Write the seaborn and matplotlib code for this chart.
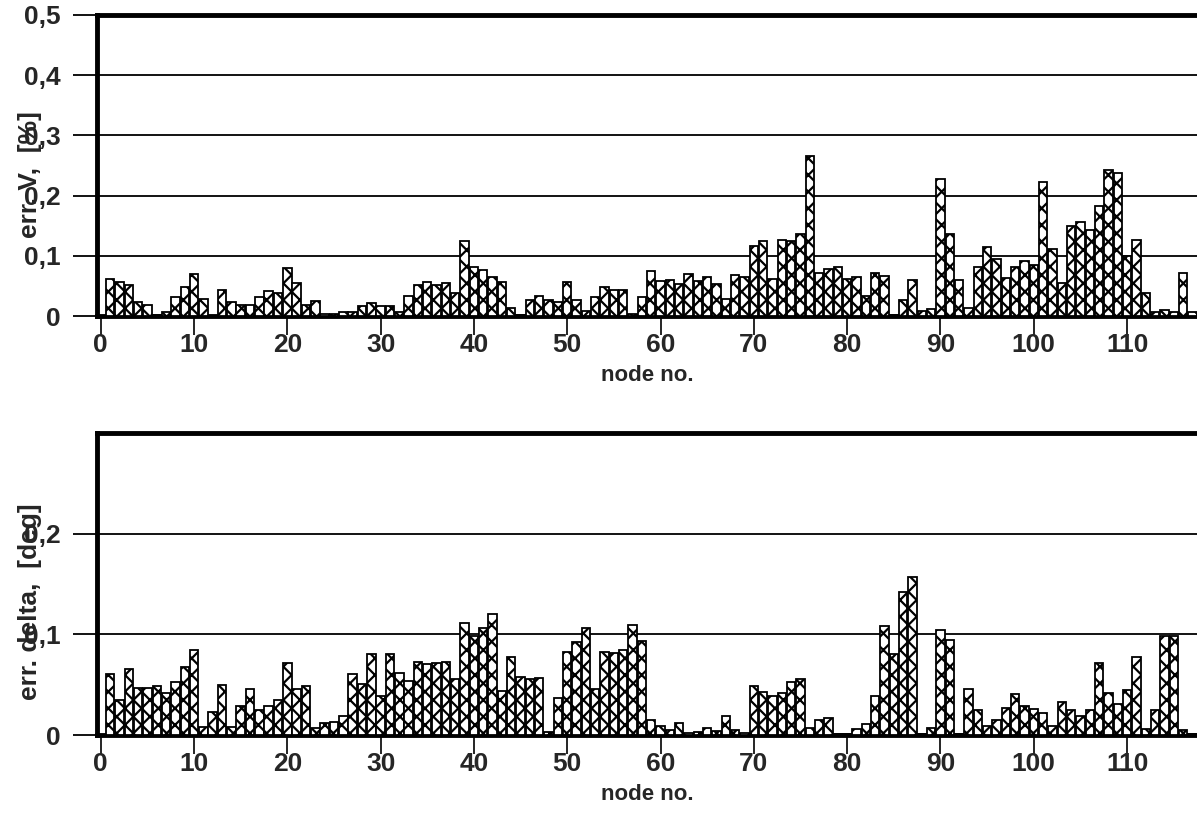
import numpy as np
import pandas as pd
import matplotlib
matplotlib.use('Agg')
import matplotlib.pyplot as plt
from matplotlib.ticker import FuncFormatter
import seaborn as sns

sns.set_style('white')
plt.rcParams['font.family'] = ['Liberation Sans', 'DejaVu Sans']
plt.rcParams['font.weight'] = 'bold'
plt.rcParams['hatch.linewidth'] = 1.6

# node numbers
nodes = list(range(1, 119))

# err. V [%]
err_v = [0.062, 0.057, 0.052, 0.024, 0.019, 0.002, 0.007, 0.032, 0.048, 0.069,
         0.029, 0.0, 0.044, 0.023, 0.019, 0.019, 0.031, 0.041, 0.038, 0.079,
         0.054, 0.019, 0.025, 0.003, 0.004, 0.007, 0.006, 0.017, 0.021, 0.016,
         0.016, 0.006, 0.033, 0.052, 0.057, 0.052, 0.054, 0.039, 0.124, 0.082,
         0.076, 0.064, 0.057, 0.013, 0.002, 0.026, 0.034, 0.027, 0.024, 0.056,
         0.027, 0.008, 0.032, 0.048, 0.044, 0.044, 0.004, 0.031, 0.074, 0.058,
         0.059, 0.053, 0.069, 0.058, 0.064, 0.053, 0.029, 0.068, 0.064, 0.117,
         0.124, 0.061, 0.127, 0.125, 0.137, 0.266, 0.071, 0.078, 0.081, 0.062,
         0.064, 0.034, 0.072, 0.066, 0.002, 0.026, 0.059, 0.008, 0.011, 0.228,
         0.136, 0.059, 0.013, 0.081, 0.114, 0.094, 0.063, 0.082, 0.092, 0.085,
         0.223, 0.111, 0.054, 0.149, 0.156, 0.143, 0.183, 0.243, 0.237, 0.099,
         0.126, 0.038, 0.007, 0.010, 0.007, 0.071, 0.007, 0.240]

# err. delta [deg]
err_delta = [0.061, 0.035, 0.066, 0.047, 0.047, 0.049, 0.042, 0.053, 0.068, 0.084,
             0.008, 0.023, 0.050, 0.008, 0.029, 0.046, 0.025, 0.029, 0.035, 0.072,
             0.046, 0.049, 0.007, 0.012, 0.013, 0.019, 0.061, 0.051, 0.080, 0.039,
             0.080, 0.062, 0.054, 0.073, 0.071, 0.072, 0.073, 0.056, 0.111, 0.098,
             0.106, 0.120, 0.044, 0.077, 0.058, 0.056, 0.057, 0.003, 0.037, 0.082,
             0.092, 0.106, 0.046, 0.082, 0.081, 0.084, 0.109, 0.093, 0.015, 0.009,
             0.005, 0.012, 0.002, 0.003, 0.007, 0.004, 0.019, 0.005, 0.002, 0.049,
             0.043, 0.039, 0.042, 0.053, 0.056, 0.007, 0.015, 0.017, 0.001, 0.001,
             0.006, 0.011, 0.039, 0.108, 0.080, 0.142, 0.157, 0.001, 0.007, 0.104,
             0.094, 0.001, 0.046, 0.025, 0.009, 0.015, 0.027, 0.041, 0.029, 0.026,
             0.022, 0.009, 0.033, 0.025, 0.019, 0.025, 0.072, 0.042, 0.031, 0.045,
             0.077, 0.006, 0.025, 0.098, 0.098, 0.005, 0.001, 0.044]

x_ticks = list(range(0, 120, 10))

df = pd.DataFrame({'node': nodes, 'err_v': err_v, 'err_delta': err_delta})

fig = plt.figure(figsize=(11.97, 8.30), dpi=100)
W = 1197.0
H = 830.0
ax1 = fig.add_axes([97 / W, 1 - 316 / H, 1101 / W, 301 / H])
ax2 = fig.add_axes([97 / W, 1 - 735 / H, 1101 / W, 302 / H])


def comma_fmt(v, pos):
    if abs(v) < 1e-9:
        return '0'
    return f'{v:.1f}'.replace('.', ',')


def style_panel(ax, col, ymax, yticks, ylabel, label_y):
    sns.barplot(data=df, x='node', y=col, native_scale=True, color='white',
                edgecolor='black', linewidth=1.3, width=0.9, saturation=1,
                ax=ax, zorder=3)
    for p in ax.patches:
        p.set_hatch('xx')
    ax.set_xlim(-0.4, 117.6)
    ax.set_ylim(0, ymax)
    ax.set_yticks(yticks)
    ax.yaxis.set_major_formatter(FuncFormatter(comma_fmt))
    ax.set_xticks(x_ticks)
    ax.set_xticklabels([str(t) for t in x_ticks])
    ax.grid(axis='y', color='black', linewidth=1.3, zorder=0)
    ax.grid(axis='x', visible=False)
    for s in ['left', 'top', 'bottom']:
        ax.spines[s].set_visible(True)
        ax.spines[s].set_color('black')
        ax.spines[s].set_linewidth(3.5)
    ax.spines['right'].set_visible(False)
    ax.tick_params(axis='y', direction='out', length=17, width=1.3, color='black',
                   labelsize=19, pad=9, left=True)
    ax.tick_params(axis='x', direction='out', length=14, width=1.2, color='black',
                   labelsize=19, pad=-2, bottom=True)
    ax.set_xlabel('node no.', fontsize=16, fontweight='bold', labelpad=6)
    ax.set_ylabel(ylabel, fontsize=19, fontweight='bold')
    ax.yaxis.set_label_coords(-0.050, label_y)


style_panel(ax1, 'err_v', 0.5, [0, 0.1, 0.2, 0.3, 0.4, 0.5], 'err. V,  [%]', 0.47)
style_panel(ax2, 'err_delta', 0.3, [0, 0.1, 0.2], 'err. delta,  [deg]', 0.44)

fig.savefig('out.png', dpi=100)
